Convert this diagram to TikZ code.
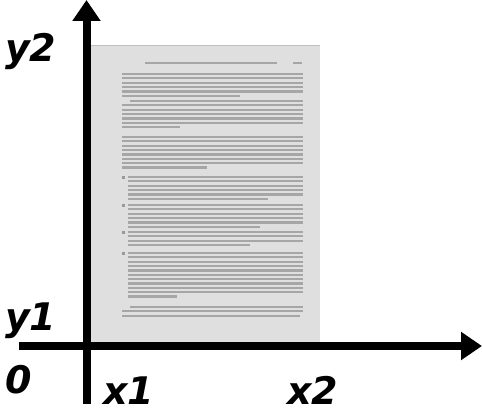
\documentclass[tikz,border=0pt]{standalone}
\usepackage{fontspec}
\setsansfont{DejaVu Sans}
\usetikzlibrary{arrows.meta}
\begin{document}
\begin{tikzpicture}[x=1pt,y=-1pt,
  axis/.style={line width=8pt,-{Triangle[length=21pt,width=27pt]}},
  lbl/.style={font=\sffamily\bfseries\itshape\fontsize{38}{38}\selectfont,inner sep=0pt,anchor=base west},
  txt/.style={line width=2.2pt,gray!70}]
  \useasboundingbox (0,0) rectangle (482,412);
  % the page
  \fill[gray!25] (91,46) rectangle (320,345);
  \draw[gray!50,line width=1pt] (91,46) -- (320,46);
  \draw[txt,line width=1.4pt] (145,63) -- (277,63) (293,63) -- (302,63);
  \foreach \t/\n/\f/\r/\e in {74/6/122/122/240, 101/7/130/122/180, 137/8/122/122/207,
      177/6/128/128/268, 205/6/128/128/260, 232/4/128/128/250, 253/11/128/128/177,
      307/3/130/122/300}{
    \draw[txt] (\f,\t) -- (303,\t);
    \pgfmathtruncatemacro\m{\n-2}
    \foreach \i in {1,...,\m}
      \draw[txt] (\r,\t+4.35*\i) -- (303,\t+4.35*\i);
    \draw[txt] (\r,\t+4.35*\n-4.35) -- (\e,\t+4.35*\n-4.35);
  }
  \foreach \t in {177,205,232,253}
    \fill[gray!80] (121.5,\t-1.5) rectangle (124.5,\t+1.5);
  % axes
  \coordinate (ybot) at (86.5,404);
  \coordinate (ytop) at (86.5,0);
  \coordinate (xleft) at (19,346);
  \coordinate (xright) at (482,346);
  \draw[axis] (ybot) -- (ytop);
  \draw[axis] (xleft) -- (xright);
  % labels
  \node[lbl] (y2) at (5,62) {y2};
  \node[lbl] (y1) at (5,330) {y1};
  \node[lbl] (o) at (5,393) {0};
  \node[lbl] (x1) at (103,404) {x1};
  \node[lbl] (x2) at (287,404) {x2};
\end{tikzpicture}
\end{document}
